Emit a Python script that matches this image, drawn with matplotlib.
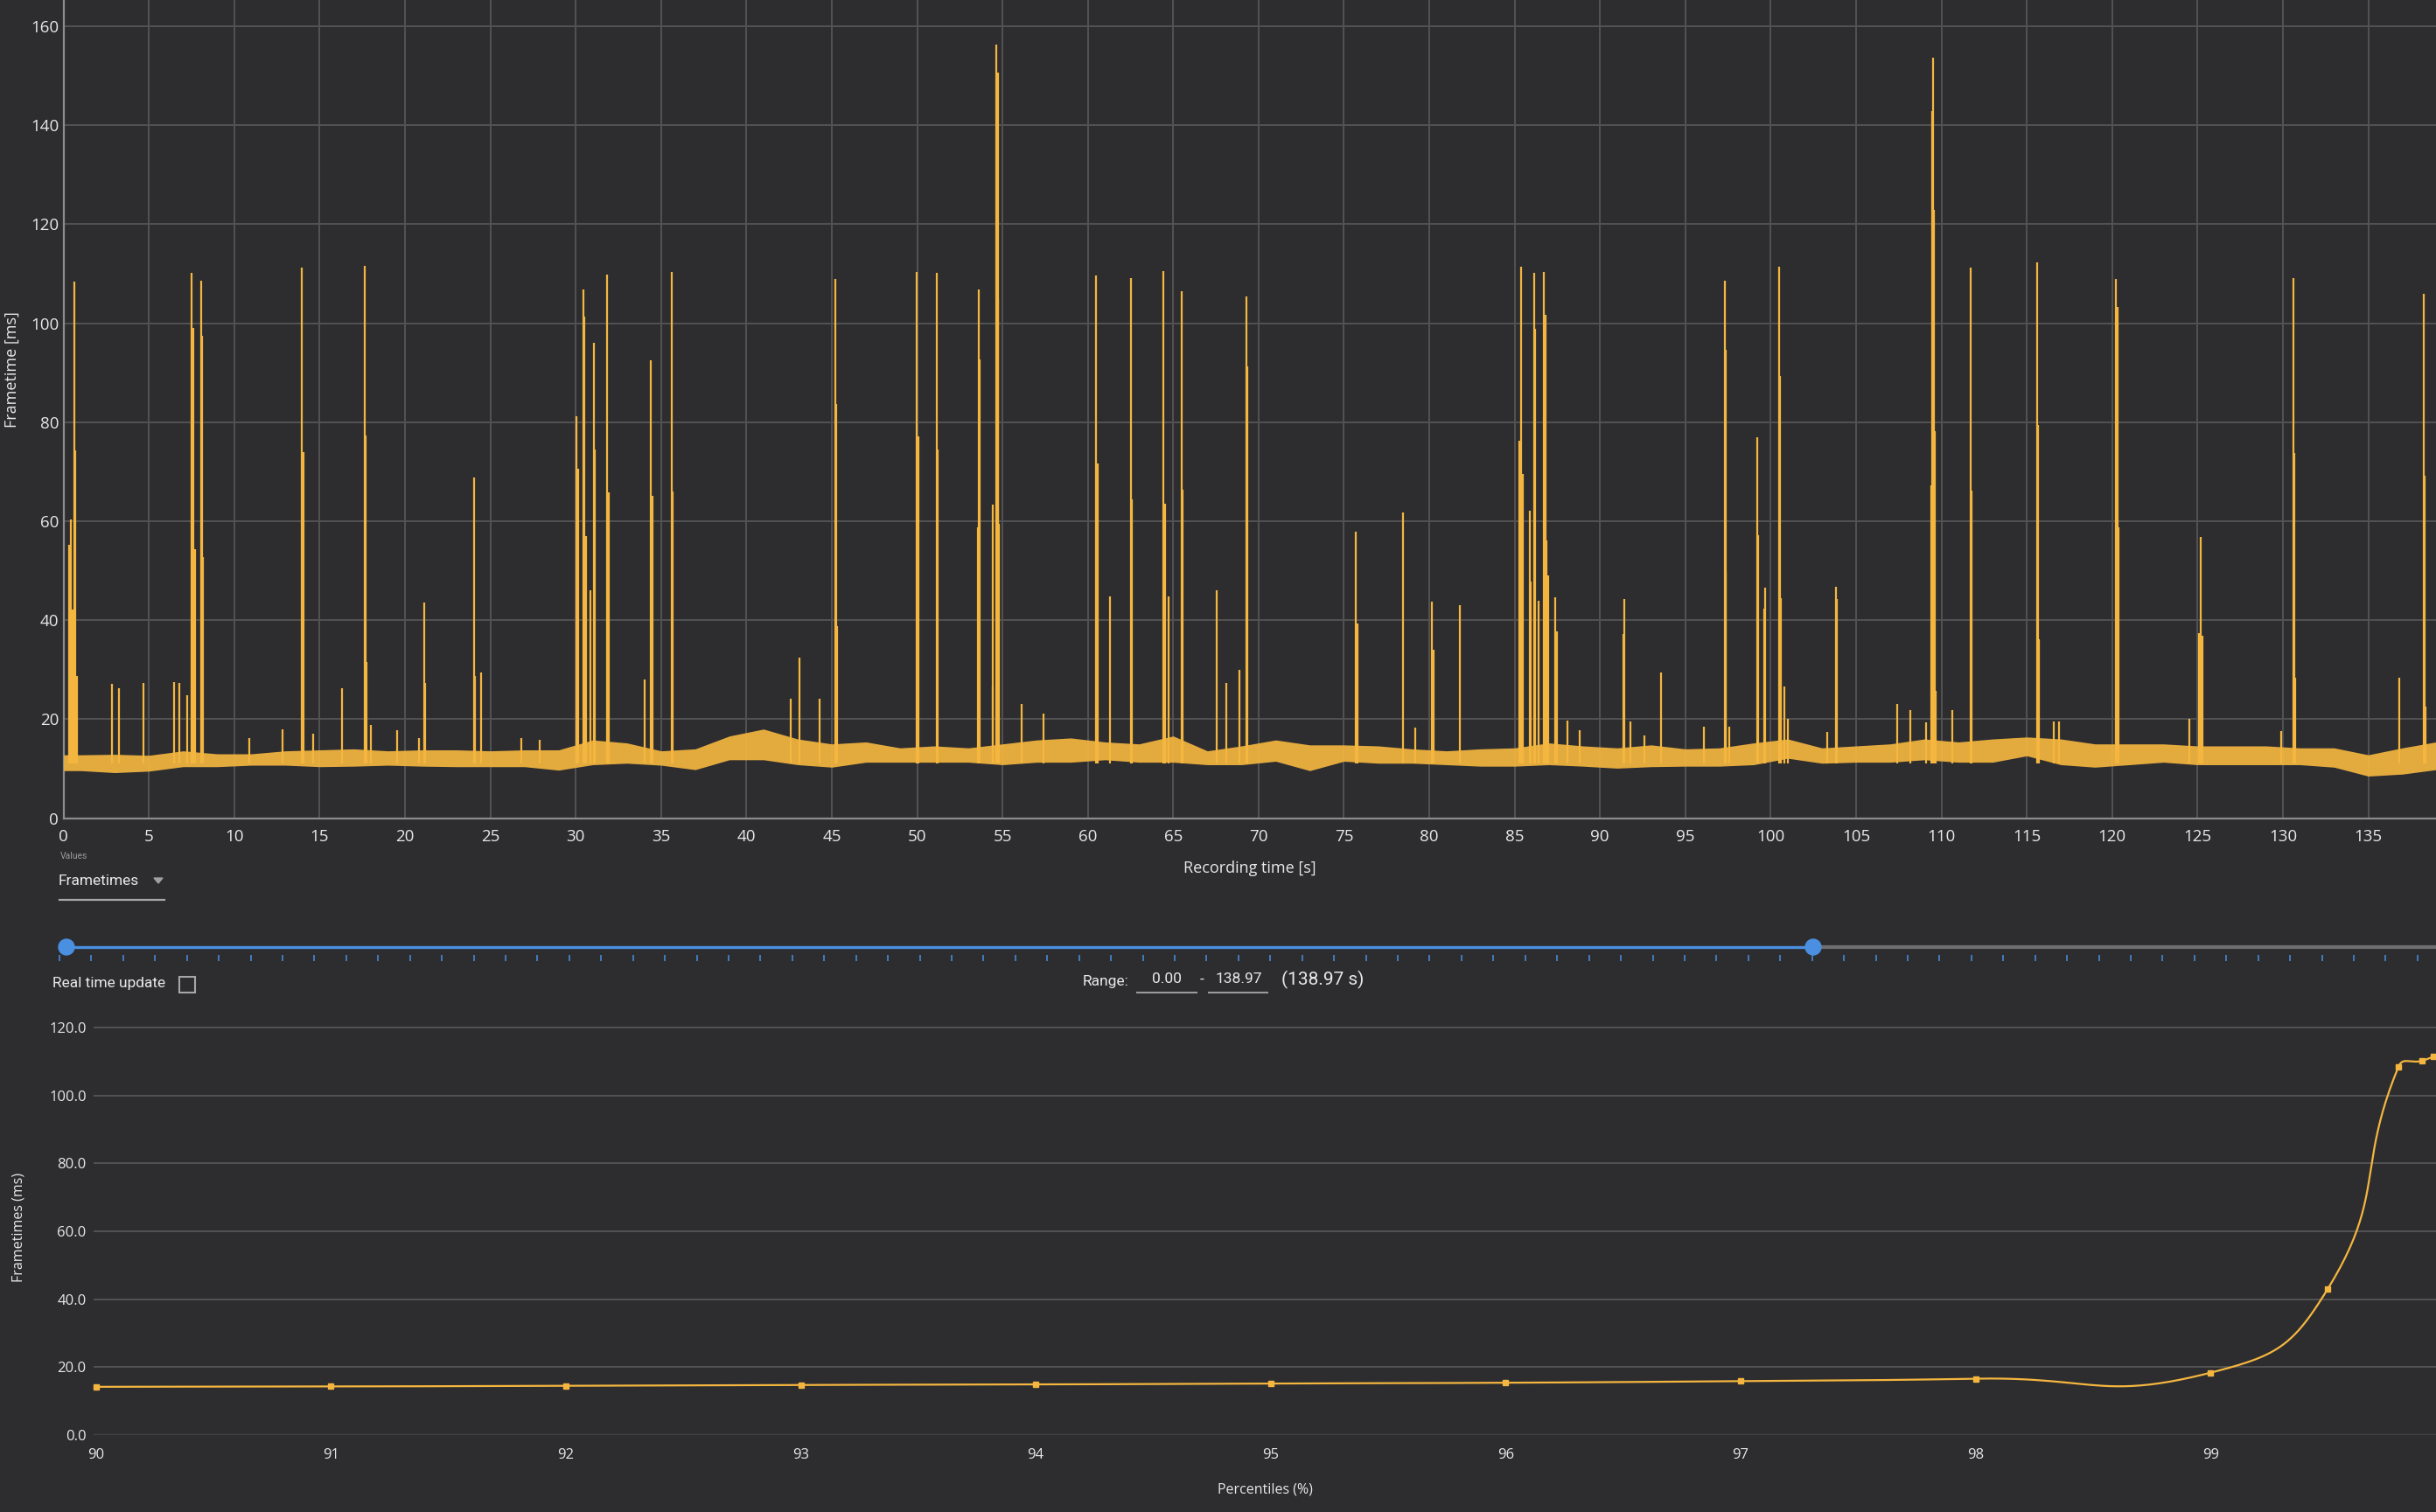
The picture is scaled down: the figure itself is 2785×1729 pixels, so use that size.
import numpy as np
import matplotlib.pyplot as plt
import matplotlib.patches as mpatches

BG = '#2d2d30'
YEL = '#f4b63f'
BLUE = '#4a8fe0'
TXT = '#e8e8e8'

# frametime spikes: time [s], frametime [ms]
spike_t = [0.33, 0.44, 0.51, 0.62, 0.70, 0.76, 2.85, 3.23, 4.67, 6.45, 6.76, 7.23,
           7.52, 7.58, 7.68, 8.06, 8.12, 8.18, 10.9, 12.8, 13.97, 14.03, 14.6, 16.31,
           17.62, 17.68, 17.72, 18.0, 19.54, 20.8, 21.1, 21.2, 24.03, 24.09, 24.48,
           26.8, 27.9, 30.06, 30.14, 30.46, 30.52, 30.59, 30.86, 31.06, 31.12, 31.82,
           31.93, 34.02, 34.42, 34.49,
           35.62, 35.69, 42.59, 43.12, 44.30, 45.19, 45.25, 45.30, 49.99, 50.06,
           51.13, 51.20, 53.56, 53.60, 53.66, 54.41, 54.43, 54.65, 54.72, 54.76, 54.79,
           56.1, 57.4, 60.5, 60.57, 61.28, 62.5, 62.57, 64.44, 64.51, 64.73, 65.49,
           65.54, 67.53, 68.1, 68.9, 69.31, 69.36,
           75.7, 75.77, 78.46, 79.17, 80.17, 80.24, 81.79, 85.26, 85.40, 85.47, 85.87,
           85.92, 86.15, 86.22, 86.42, 86.73, 86.80, 86.84, 86.98, 87.40, 87.47, 88.07,
           88.8, 91.36, 91.40, 91.79, 92.6, 93.59, 96.08, 97.30, 97.37, 97.39, 97.58,
           99.19, 99.24, 99.62, 99.66, 100.49, 100.56, 100.60, 100.82, 100.98, 103.33,
           103.82, 103.89,
           107.4, 108.16, 109.1, 109.43, 109.45, 109.50, 109.55, 109.60, 109.65, 110.63,
           111.70, 111.77, 115.59, 115.66, 115.70, 116.6, 116.9, 120.22, 120.31, 120.36,
           124.54, 125.10, 125.20, 125.27, 129.88, 130.60, 130.67, 130.73, 136.82,
           138.24, 138.31, 138.37]
spike_ms = [55.2, 60.4, 42.2, 108.4, 74.3, 28.8, 27.1, 26.2, 27.4, 27.5, 27.4, 24.9,
            110.2, 99.0, 54.3, 108.6, 97.5, 52.8, 16.2, 18.0, 111.2, 74.0, 17.0, 26.2,
            111.6, 77.3, 31.6, 18.8, 17.7, 16.2, 43.6, 27.4, 68.8, 28.8, 29.4,
            16.2, 15.8, 81.2, 70.6, 106.8, 101.3, 57.0, 46.0, 96.1, 74.5, 109.8,
            65.9, 28.0, 92.5, 65.1,
            110.4, 66.0, 24.1, 32.4, 24.1, 109.0, 83.7, 38.8, 110.4, 77.2,
            110.2, 74.5, 58.8, 106.8, 92.6, 26.6, 63.4, 156.3, 150.7, 104.9, 59.4,
            23.0, 21.2, 109.7, 71.6, 44.8, 109.2, 64.4, 110.6, 63.6, 44.8, 106.5,
            66.3, 46.1, 27.4, 30.0, 105.4, 91.3,
            57.8, 39.3, 61.7, 18.3, 43.7, 34.0, 43.0, 76.3, 111.5, 69.6, 62.2,
            47.8, 110.2, 98.9, 43.9, 110.3, 101.7, 56.2, 49.1, 44.6, 37.8, 19.7,
            17.8, 37.2, 44.2, 19.5, 16.7, 29.4, 18.4, 108.6, 94.6, 49.8, 18.4,
            77.0, 57.1, 42.4, 46.5, 111.5, 89.3, 44.5, 26.6, 20.0, 17.5,
            46.7, 44.3,
            23.1, 21.9, 19.4, 67.3, 142.9, 153.6, 122.9, 78.2, 25.7, 21.9,
            111.3, 66.1, 112.3, 79.5, 36.1, 19.5, 19.5, 108.9, 103.3, 58.8,
            20.0, 37.4, 56.8, 36.9, 17.6, 109.1, 73.7, 28.4, 28.4,
            106.0, 69.1, 22.5]

# noisy baseline band (low / high edge of the dense part) read every 2 s
band_t = [0] + list(range(1, 138, 2)) + [138.97]
band_hi = [12.8, 12.8, 12.9, 12.7, 13.6, 13.0, 13.0, 13.6, 13.8, 14.0, 13.6, 13.8, 13.8,
           13.6, 13.8, 13.8, 15.8, 15.2, 13.6, 14.0, 16.6, 18.0, 16.0, 15.0, 15.4, 14.2,
           14.6, 14.2, 15.0, 15.8, 16.2, 15.4, 15.0, 16.6, 13.6, 14.6, 15.8, 14.8, 14.8,
           14.6, 14.0, 13.6, 14.0, 14.2, 15.2, 14.6, 14.2, 14.8, 14.0, 14.2, 15.2, 16.0,
           14.2, 14.6, 15.0, 16.0, 15.4, 16.0, 16.4, 16.0, 15.0, 15.0, 15.0, 14.6, 14.6,
           14.6, 14.2, 14.2, 12.8, 14.2, 15.4]
band_lo = [9.6, 9.6, 9.2, 9.5, 10.4, 10.4, 10.7, 10.7, 10.4, 10.5, 10.7, 10.5, 10.4,
           10.4, 10.4, 9.7, 10.8, 11.1, 10.7, 9.8, 11.8, 11.8, 10.8, 10.3, 11.3, 11.3,
           11.3, 11.3, 10.8, 11.3, 11.3, 11.8, 11.3, 11.3, 10.8, 10.8, 11.5, 9.6, 11.5,
           11.1, 11.1, 10.8, 10.5, 10.5, 10.8, 10.5, 10.1, 10.4, 10.5, 10.5, 10.8, 12.1,
           11.1, 11.3, 11.3, 11.8, 11.3, 11.3, 12.6, 10.8, 10.3, 10.8, 11.3, 10.8, 10.8,
           10.8, 10.8, 10.3, 8.5, 8.9, 9.8]

# percentile curve
pct = [90, 91, 92, 93, 94, 95, 96, 97, 98, 99, 99.5, 99.8, 99.9, 99.95]
pct_ms = [14.2, 14.3, 14.5, 14.75, 14.9, 15.2, 15.4, 15.9, 16.6, 18.35, 43.1, 108.4,
          110.2, 111.4]


def smooth_line(xs, ys, sx, sy, smooth=1.0, per=50):
    # bezier smoothing of a polyline (control points from neighbour midpoints),
    # worked out in screen pixels (sx, sy = pixels per data unit)
    p = np.column_stack([np.asarray(xs, float) * sx, np.asarray(ys, float) * sy])
    n = len(p)
    out = []
    for i in range(n - 1):
        p0 = p[i - 1] if i > 0 else p[i]
        p1, p2 = p[i], p[i + 1]
        p3 = p[i + 2] if i + 2 < n else p[i + 1]
        c1, c2, c3 = (p0 + p1) / 2, (p1 + p2) / 2, (p2 + p3) / 2
        l1, l2, l3 = [np.hypot(*(b - a)) for a, b in ((p0, p1), (p1, p2), (p2, p3))]
        k1 = l1 / (l1 + l2) if l1 + l2 else 0
        k2 = l2 / (l2 + l3) if l2 + l3 else 0
        m1 = c1 + (c2 - c1) * k1
        m2 = c2 + (c3 - c2) * k2
        q1 = p1 + (c2 - m1) * smooth
        q2 = p2 + (c2 - m2) * smooth
        t = np.linspace(0, 1, per)[:, None]
        seg = (1 - t) ** 3 * p1 + 3 * (1 - t) ** 2 * t * q1 + 3 * (1 - t) * t ** 2 * q2 + t ** 3 * p2
        out.append(seg)
    out = np.vstack(out)
    return out[:, 0] / sx, out[:, 1] / sy


W, H = 2785, 1729
fig = plt.figure(figsize=(W / 100, H / 100), dpi=100, facecolor=BG)
plt.rcParams['font.family'] = ['Open Sans', 'DejaVu Sans']

# ---- top chart: frametimes over time
ax = fig.add_axes([72.7 / W, 1 - 935.6 / H, 1 - 72.7 / W, 935.6 / H])
ax.set_facecolor(BG)
ax.fill_between(band_t, band_lo, band_hi, color=YEL, alpha=0.92, lw=0, zorder=3)
ax.vlines(spike_t, 11, spike_ms, color=YEL, lw=1.6, zorder=3)
ax.set_xlim(0, 138.97)
ax.set_ylim(0, 165.3)
ax.set_xticks(np.arange(0, 136, 5))
ax.set_yticks(np.arange(0, 161, 20))
ax.grid(True, color='#535353', lw=1.4)
ax.set_axisbelow(True)
for s in ['top', 'right']:
    ax.spines[s].set_visible(False)
for s in ['left', 'bottom']:
    ax.spines[s].set_color('#8c8c8c')
    ax.spines[s].set_linewidth(1.6)
ax.tick_params(length=0, labelsize=13.5, colors=TXT)
ax.tick_params(axis='x', pad=9)
ax.tick_params(axis='y', pad=4)
ax.set_ylabel('Frametime [ms]', fontsize=13, color=TXT)
ax.yaxis.set_label_coords(-0.0183, 0.548)
ax.set_xlabel('Recording time [s]', fontsize=13, color=TXT)
ax.xaxis.set_label_coords(0.5, -0.052)

# ---- bottom chart: percentiles
ax2 = fig.add_axes([107 / W, 1 - 1641 / H, 1 - 107 / W, 475 / H])
ax2.set_facecolor(BG)
cx_, cy_ = smooth_line(pct, pct_ms, 268.7, 3.885)
ax2.plot(cx_, cy_, color=YEL, lw=1.6, zorder=3)
ax2.plot(pct, pct_ms, 's', color=YEL, ms=5, zorder=4, clip_on=False)
ax2.set_xlim(89.99, 99.96)
ax2.set_ylim(0, 122.3)
ax2.set_xticks(range(90, 100))
ax2.set_yticks(np.arange(0, 121, 20))
ax2.set_yticklabels(['%.1f' % v for v in np.arange(0, 121, 20)])
ax2.grid(True, axis='y', color='#595959', lw=1.2)
ax2.axhline(0, color='#424242', lw=2.5, zorder=1)
ax2.set_axisbelow(True)
for s in ax2.spines.values():
    s.set_visible(False)
ax2.tick_params(length=0, labelsize=12, colors=TXT)
ax2.tick_params(axis='x', pad=11)
ax2.tick_params(axis='y', pad=6)
ax2.set_ylabel('Frametimes (ms)', fontsize=11.5, color=TXT)
ax2.yaxis.set_label_coords(-0.0288, 0.5)
ax2.set_xlabel('Percentiles (%)', fontsize=11.5, color=TXT)
ax2.xaxis.set_label_coords(0.5, -0.114)

# ---- controls between the charts, in pixel coordinates
ui = fig.add_axes([0, 0, 1, 1])
ui.set_xlim(0, W)
ui.set_ylim(H, 0)
ui.axis('off')
ui.patch.set_alpha(0)

ui.text(69, 979, 'Values', fontsize=7.5, color='#9a9a9a', va='center', family='Roboto')
ui.text(67, 1007, 'Frametimes', fontsize=12.5, color=TXT, va='center', family='Roboto')
ui.add_patch(mpatches.Polygon([[176, 1004], [186, 1004], [181, 1010]], closed=True,
                              color='#a0a0a0'))
ui.plot([68, 188], [1029, 1029], color='#a8a8a8', lw=1.6)

ui.plot([76, 2073], [1083, 1083], color=BLUE, lw=2.4, solid_capstyle='butt')
ui.plot([2073, W], [1083, 1083], color='#6f6f6f', lw=3, solid_capstyle='butt')
ui.vlines(np.arange(68, W, 36.43), 1092, 1099, color=BLUE, lw=1.1)
for cx in [76, 2073]:
    ui.add_patch(mpatches.Ellipse((cx, 1083), 18, 18, color=BLUE, zorder=5))

ui.text(60, 1125, 'Real time update', fontsize=12.5, color=TXT, va='center', family='Roboto')
ui.add_patch(mpatches.Rectangle((205, 1117), 18, 18, fill=False, ec='#a6a6a6', lw=1.5))

ui.text(1238, 1122, 'Range:', fontsize=12.5, color=TXT, va='center', family='Roboto')
ui.text(1334, 1120, '0.00', fontsize=12.5, color=TXT, va='center', ha='center', family='Roboto')
ui.plot([1300, 1368], [1135, 1135], color='#9a9a9a', lw=1.5)
ui.text(1374, 1120, '-', fontsize=12.5, color=TXT, va='center', ha='center', family='Roboto')
ui.text(1416, 1120, '138.97', fontsize=12.5, color=TXT, va='center', ha='center', family='Roboto')
ui.plot([1382, 1449], [1135, 1135], color='#9a9a9a', lw=1.5)
ui.text(1465, 1120, '(138.97 s)', fontsize=15, color=TXT, va='center', family='Roboto')

fig.savefig('out.png', dpi=100, facecolor=BG)
